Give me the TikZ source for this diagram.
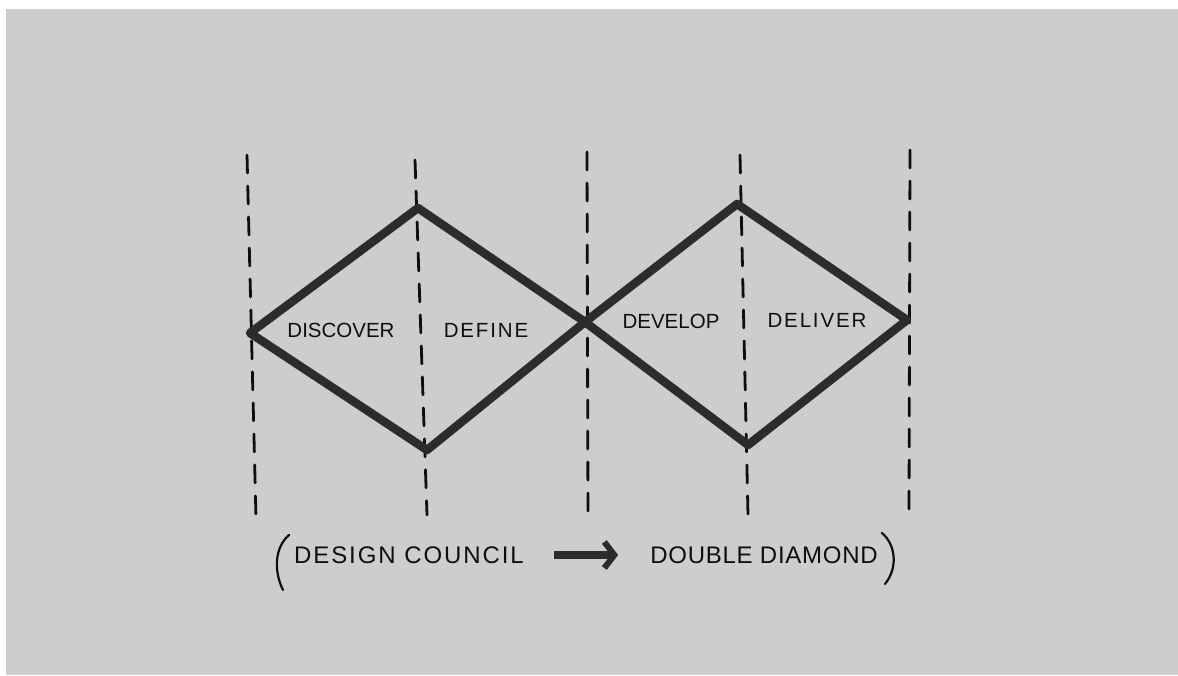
\documentclass[tikz,border=0pt]{standalone}
\usepackage{fontspec}
\setmainfont{Liberation Sans}
\usetikzlibrary{arrows.meta}
\definecolor{paper}{RGB}{205,205,205}
\definecolor{marker}{RGB}{44,44,44}
\definecolor{pen}{RGB}{14,14,14}
\tikzset{
  guide/.style={draw=pen, line width=2.8pt, dash pattern=on 18pt off 13pt, line cap=round},
  diamondline/.style={draw=marker, line width=8.5pt, line join=round, line cap=round},
  phase/.style={text=pen, inner sep=0pt, font=\fontsize{20.5}{20}\selectfont},
  phasewide/.style={phase, font=\fontsize{20.5}{20}\selectfont\addfontfeatures{LetterSpace=9}},
  caption/.style={text=pen, inner sep=0pt, font=\fontsize{24}{24}\selectfont},
  bracket/.style={draw=pen, line width=2.2pt, line cap=round},
}
\begin{document}
\begin{tikzpicture}[x=1pt, y=-1pt]
  % canvas
  \useasboundingbox (0,0) rectangle (1178,675);
  \fill[white] (0,0) rectangle (1178,675);
  \fill[paper] (6,9) rectangle (1178,675);

  % phase boundaries
  \coordinate (g1t) at (247,155); \coordinate (g1b) at (256,518);
  \coordinate (g2t) at (415,160); \coordinate (g2b) at (427,515);
  \coordinate (g3t) at (587,152); \coordinate (g3b) at (588,518);
  \coordinate (g4t) at (740,155); \coordinate (g4b) at (748,515);
  \coordinate (g5t) at (910,150); \coordinate (g5b) at (909,515);
  \foreach \i in {1,...,5} \draw[guide] (g\i t) -- (g\i b);

  % diamond vertices
  \coordinate (l1) at (250,333);
  \coordinate (t1) at (418,208);
  \coordinate (m)  at (585,322);
  \coordinate (b1) at (427,450);
  \coordinate (t2) at (737,204);
  \coordinate (r2) at (907,320);
  \coordinate (b2) at (748,445);

  \draw[diamondline] (l1) -- (t1) -- (m) -- (b1) -- cycle;
  \draw[diamondline] (m) -- (t2) -- (r2) -- (b2) -- cycle;

  % phase labels
  \node[phase]     (discover) at (341,330) {DISCOVER};
  \node[phasewide] (define)   at (486,330) {DEFINE};
  \node[phase]     (develop)  at (671,321) {DEVELOP};
  \node[phasewide] (deliver)  at (817,320) {DELIVER};

  % caption
  \node[caption, font=\fontsize{24}{24}\selectfont\addfontfeatures{LetterSpace=8}]
    (council) at (409,555) {DESIGN COUNCIL};
  \node[caption, font=\fontsize{24}{24}\selectfont\addfontfeatures{LetterSpace=3}]
    (double) at (764,555) {DOUBLE DIAMOND};
  \draw[draw=marker, line width=8pt,
        -{Straight Barb[length=10pt, width=26pt, line width=6pt]},
        shorten <=30pt, shorten >=32pt] (council.east) -- (double.west);

  \draw[bracket] (289,535) .. controls (274,548) and (274,572) .. (283,590);
  \draw[bracket] (882,533) .. controls (896,545) and (898,568) .. (885,584);
\end{tikzpicture}
\end{document}
